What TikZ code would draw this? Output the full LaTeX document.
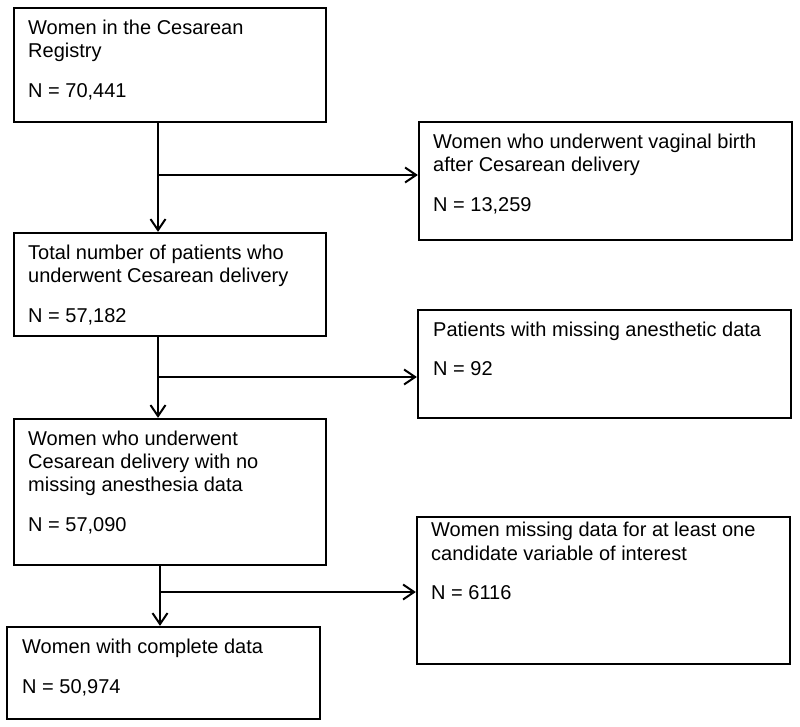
\documentclass[tikz,border=0pt]{standalone}
\usepackage{fontspec}
\setmainfont{Liberation Sans}
\usetikzlibrary{arrows.meta}
\begin{document}
\begin{tikzpicture}[x=1pt,y=-1pt,
  box/.style={draw=black,line width=2.3pt,inner sep=0pt},
  arr/.style={draw=black,line width=2pt,-{Straight Barb[length=11pt,width=15pt,line width=2pt]}},
  txt/.style={anchor=base west,inner sep=0pt,font=\fontsize{20}{23.3}\selectfont}]
\useasboundingbox (0,0) rectangle (800,727);
\newcommand{\bx}[2]{\parbox[t]{#1}{\raggedright #2}}
% boxes
\node[box,minimum width=312pt,minimum height=114pt] (Ab) at (170,65) {};
\node[box,minimum width=373pt,minimum height=118pt] (Bb) at (605.5,181) {};
\node[box,minimum width=312pt,minimum height=103pt] (Cb) at (170,284.5) {};
\node[box,minimum width=373pt,minimum height=108pt] (Db) at (604.5,364) {};
\node[box,minimum width=312pt,minimum height=146pt] (Eb) at (170,492) {};
\node[box,minimum width=373pt,minimum height=147pt] (Fb) at (603.5,590.5) {};
\node[box,minimum width=313pt,minimum height=92pt] (Gb) at (163.5,673) {};
% texts
\node[txt] (tA) at (28,34.3) {\bx{290pt}{Women in the Cesarean\\Registry\\[16.5pt]N = 70,441}};
\node[txt] (tB) at (433,148.3) {\bx{350pt}{Women who underwent vaginal birth\\after Cesarean delivery\\[16.5pt]N = 13,259}};
\node[txt] (tC) at (28,259.3) {\bx{295pt}{Total number of patients who\\underwent Cesarean delivery\\[16.5pt]N = 57,182}};
\node[txt] (tD) at (433,336) {\bx{350pt}{Patients with missing anesthetic data\\[16.5pt]N = 92}};
\node[txt] (tE) at (28,445) {\bx{295pt}{Women who underwent\\Cesarean delivery with no\\missing anesthesia data\\[16.5pt]N = 57,090}};
\node[txt] (tF) at (431,536.7) {\bx{350pt}{Women missing data for at least one\\candidate variable of interest\\[16.5pt]N = 6116}};
\node[txt] (tG) at (22,653.3) {\bx{295pt}{Women with complete data\\[16.5pt]N = 50,974}};
% connectors
\coordinate (j1) at (158,175);
\coordinate (j2) at (158,377);
\coordinate (j3) at (160,592);
\draw[arr] (j1 |- Ab.south) -- (j1 |- Cb.north);
\draw[arr] (j1) -- (j1 -| Bb.west);
\draw[arr] (j2 |- Cb.south) -- (j2 |- Eb.north);
\draw[arr] (j2) -- (j2 -| Db.west);
\draw[arr] (j3 |- Eb.south) -- (j3 |- Gb.north);
\draw[arr] (j3) -- (j3 -| Fb.west);
\end{tikzpicture}
\end{document}
